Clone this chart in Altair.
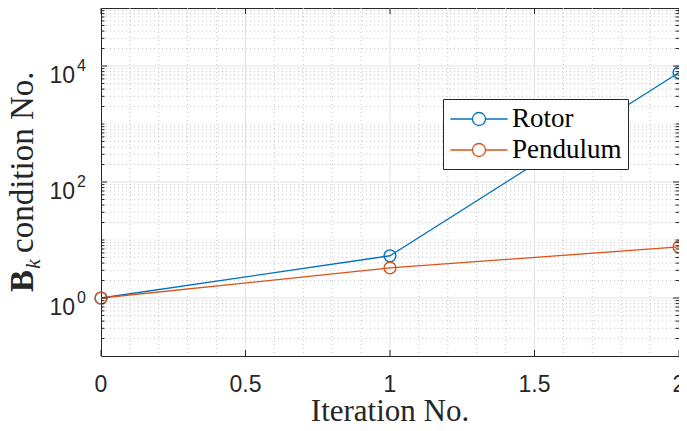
import altair as alt
import pandas as pd

# ---------------- data ----------------
iterations = [0, 1, 2]
rotor = [1.0, 5.35, 7700.0]
pendulum = [1.0, 3.3, 7.6]
series_names = ["Rotor", "Pendulum"]
series_colors = ["#0072BD", "#D95319"]

x_tick_values = [0, 0.5, 1, 1.5, 2]
x_tick_labels = ["0", "0.5", "1", "1.5", "2"]
x_minor_grid = [0.1, 0.2, 0.3, 0.4, 0.6, 0.7, 0.8, 0.9,
                1.1, 1.2, 1.3, 1.4, 1.6, 1.7, 1.8, 1.9]
y_tick_values = [1, 100, 10000]
y_tick_exponents = ["0", "2", "4"]
minor_mult = [2, 3, 4, 5, 6, 7, 8, 9]
decades = [0.1, 1, 10, 100, 1000, 10000]
y_minor_grid = [m * d for d in decades for m in minor_mult] + [10, 1000]

x_title = "Iteration No."

# ---------------- layout ----------------
W, H = 578, 348
AX = "#262626"
SANS = "Liberation Sans"
SERIF = "Liberation Serif"

xs = alt.Scale(domain=[0, 2], nice=False, zero=False)
ys = alt.Scale(type="log", domain=[0.1, 100000], nice=False)

df = pd.DataFrame({
    "it": iterations * 2,
    "val": rotor + pendulum,
    "series": [series_names[0]] * 3 + [series_names[1]] * 3,
})
dfx_minor = pd.DataFrame({"v": x_minor_grid})
dfx_major = pd.DataFrame({"v": [v for v in x_tick_values if 0 < v < 2]})
dfx_ticks = pd.DataFrame({"v": x_tick_values, "lab": x_tick_labels})
dfy_minor = pd.DataFrame({"v": y_minor_grid})
dfy_major = pd.DataFrame({"v": y_tick_values, "base": ["10"] * 3, "e": y_tick_exponents})

Xn = alt.X("v:Q", scale=xs, axis=None)
Yn = alt.Y("v:Q", scale=ys, axis=None)

minor_style = dict(color="#c6c6c6", strokeDash=[1, 3], strokeWidth=1)
major_style = dict(color="#e2e2e2", strokeWidth=1)

g_xminor = alt.Chart(dfx_minor).mark_rule(**minor_style).encode(x=Xn)
g_yminor = alt.Chart(dfy_minor).mark_rule(**minor_style).encode(y=Yn)
g_xmajor = alt.Chart(dfx_major).mark_rule(**major_style).encode(x=Xn)
g_ymajor = alt.Chart(dfy_major).mark_rule(**major_style).encode(y=Yn)

tk = dict(color=AX, strokeWidth=1)
t_yl = alt.Chart(dfy_major).mark_rule(**tk).encode(y=Yn, x=alt.value(0), x2=alt.value(6))
t_yr = alt.Chart(dfy_major).mark_rule(**tk).encode(y=Yn, x=alt.value(W - 6), x2=alt.value(W))
t_yl2 = alt.Chart(dfy_minor).mark_rule(**tk).encode(y=Yn, x=alt.value(0), x2=alt.value(3.5))
t_yr2 = alt.Chart(dfy_minor).mark_rule(**tk).encode(y=Yn, x=alt.value(W - 3.5), x2=alt.value(W))
t_xb = alt.Chart(dfx_ticks).mark_rule(**tk).encode(x=Xn, y=alt.value(H - 6), y2=alt.value(H))
t_xt = alt.Chart(dfx_ticks).mark_rule(**tk).encode(x=Xn, y=alt.value(0), y2=alt.value(6))

LEG_PATH = "M-2.2,0L-0.5,0M0.5,0L2.2,0M0.5,0A0.5,0.5,0,1,1,-0.5,0A0.5,0.5,0,1,1,0.5,0"

color = alt.Color(
    "series:N",
    scale=alt.Scale(domain=series_names, range=series_colors),
    sort=series_names,
    legend=alt.Legend(
        title=None, orient="none", legendX=342, legendY=91, direction="vertical",
        fillColor="white", strokeColor=AX, padding=6, rowPadding=4,
        symbolType=LEG_PATH, symbolSize=676, symbolStrokeWidth=1.3,
        symbolOffset=16, labelOffset=19, symbolFillColor="transparent",
        labelFont=SERIF, labelFontSize=27, labelColor="#000000",
    ),
)

lines = alt.Chart(df).mark_line(strokeWidth=1.3).encode(
    x=alt.X("it:Q", scale=xs, axis=None),
    y=alt.Y("val:Q", scale=ys, axis=None),
    color=color, order=alt.Order("it:Q"))
points = alt.Chart(df).mark_point(filled=False, size=140, strokeWidth=1.4, opacity=1).encode(
    x=alt.X("it:Q", scale=xs, axis=None),
    y=alt.Y("val:Q", scale=ys, axis=None),
    color=color)

# x tick labels and title
lab_x = alt.Chart(dfx_ticks).mark_text(
    align="center", baseline="alphabetic", font=SANS, fontSize=23, color=AX
).encode(x=Xn, y=alt.value(H + 36), text="lab:N")
ttl_x = alt.Chart(pd.DataFrame({"t": [x_title]})).mark_text(
    align="center", baseline="alphabetic", font=SERIF, fontSize=31, color=AX
).encode(x=alt.value(W / 2), y=alt.value(H + 65), text="t:N")

# y tick labels 10^k
lab_base = alt.Chart(dfy_major).mark_text(
    align="right", baseline="alphabetic", font=SANS, fontSize=23, color=AX, dy=17
).encode(y=Yn, x=alt.value(-26), text="base:N")
lab_exp = alt.Chart(dfy_major).mark_text(
    align="left", baseline="alphabetic", font=SANS, fontSize=16, color=AX, dy=5
).encode(y=Yn, x=alt.value(-24), text="e:N")

# y title: bold B, italic subscript k, then text
ttl_B = alt.Chart(pd.DataFrame({"t": ["B"]})).mark_text(
    align="left", baseline="alphabetic", angle=270, font=SERIF, fontSize=33,
    fontWeight="bold", color=AX
).encode(x=alt.value(-68), y=alt.value(284), text="t:N")
ttl_k = alt.Chart(pd.DataFrame({"t": ["k"]})).mark_text(
    align="left", baseline="alphabetic", angle=270, font=SERIF, fontSize=22,
    fontStyle="italic", color=AX
).encode(x=alt.value(-61), y=alt.value(261), text="t:N")
ttl_rest = alt.Chart(pd.DataFrame({"t": ["condition No."]})).mark_text(
    align="left", baseline="alphabetic", angle=270, font=SERIF, fontSize=33, color=AX
).encode(x=alt.value(-68), y=alt.value(245), text="t:N")

chart = alt.layer(
    g_xminor, g_yminor, g_xmajor, g_ymajor,
    lines, points,
    t_yl, t_yr, t_yl2, t_yr2, t_xb, t_xt,
    lab_x, ttl_x, lab_base, lab_exp, ttl_B, ttl_k, ttl_rest,
).properties(
    width=W, height=H,
    autosize=alt.AutoSizeParams(type="none"),
    padding={"left": 93, "top": 0, "right": 0, "bottom": 67},
).configure_view(
    stroke=AX, strokeWidth=1
).configure_legend(
    strokeWidth=1, cornerRadius=0
)

chart.save("out.html", embed_options={"renderer": "svg", "actions": False})
